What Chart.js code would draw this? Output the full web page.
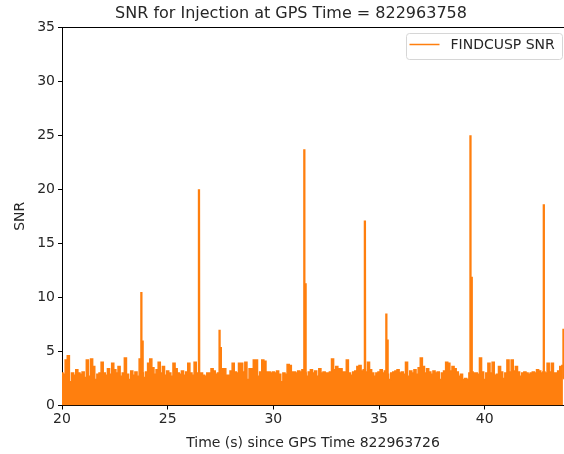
<!DOCTYPE html>
<html>
<head>
<meta charset="utf-8">
<script src="https://cdn.jsdelivr.net/npm/chart.js@4.4.1/dist/chart.umd.min.js"></script>
<style>
  body { margin: 0; background: #fff; }
  canvas { display: block; }
</style>
</head>
<body>
<canvas id="snrChart" width="564" height="454"></canvas>
<script>
// données
const titleText = 'SNR for Injection at GPS Time = 822963758';
const xLabel = 'Time (s) since GPS Time 822963726';
const yLabel = 'SNR';
const seriesName = 'FINDCUSP SNR';

// enveloppe du bruit, un point toutes les 0.1 s à partir de 20.0 s
const noiseStart = 20.0;
const noiseStep = 0.1;
const noiseSnr = [
  3.0, 2.9, 4.2, 4.6, 2.2, 3.0, 2.8, 3.3, 3.0, 2.9,
  3.1, 2.6, 4.2, 2.7, 4.3, 3.6, 2.4, 2.9, 3.0, 4.0,
  3.0, 2.8, 3.4, 2.9, 3.9, 3.3, 3.0, 3.6, 2.7, 3.0,
  4.4, 2.9, 2.4, 3.2, 2.8, 3.1, 2.7, 4.3, 3.0, 2.6,
  3.1, 3.9, 4.3, 3.5, 2.9, 3.3, 4.0, 3.0, 3.6, 2.8,
  3.2, 3.0, 2.7, 3.9, 3.4, 3.0, 2.9, 3.2, 2.8, 3.1,
  3.9, 3.0, 2.8, 4.0, 3.0, 2.9, 3.0, 2.8, 2.7, 3.0,
  3.0, 3.4, 3.2, 2.9, 3.0, 3.0, 3.4, 3.4, 2.8, 2.8,
  3.2, 3.9, 3.1, 3.0, 3.9, 3.9, 3.1, 4.0, 2.4, 3.4,
  3.4, 4.2, 4.2, 2.7, 3.1, 4.2, 4.1, 3.1, 3.1, 3.0,
  3.1, 3.0, 3.2, 2.9, 2.2, 3.0, 2.9, 3.8, 3.7, 3.1,
  3.1, 3.0, 3.2, 3.1, 3.3, 3.0, 2.7, 3.1, 3.3, 3.0,
  3.2, 2.7, 3.4, 3.0, 3.1, 3.0, 3.0, 3.1, 4.3, 3.3,
  3.6, 3.4, 3.4, 3.1, 3.1, 4.2, 3.0, 2.8, 3.1, 3.2,
  3.6, 3.7, 3.2, 3.3, 3.1, 4.0, 3.3, 3.0, 2.7, 3.0,
  3.1, 3.3, 3.0, 3.2, 2.9, 2.4, 3.0, 3.1, 3.2, 3.3,
  3.0, 3.1, 2.9, 4.0, 2.7, 3.2, 3.0, 3.3, 2.9, 3.5,
  4.4, 3.6, 3.0, 3.4, 3.1, 2.9, 3.2, 3.0, 3.1, 2.4,
  3.0, 3.2, 4.0, 3.9, 3.2, 3.6, 3.4, 3.1, 2.7, 2.9,
  2.4, 2.5, 2.4, 3.0, 3.1, 3.0, 3.0, 2.9, 4.4, 3.1,
  2.4, 3.0, 3.9, 3.0, 4.0, 2.8, 2.9, 3.6, 3.1, 2.5,
  3.0, 4.2, 3.1, 4.2, 3.2, 3.6, 3.1, 2.7, 3.0, 3.1,
  3.0, 2.9, 3.0, 3.1, 3.0, 3.3, 3.2, 3.0, 3.1, 3.0,
  3.9, 3.1, 3.9, 3.0, 3.0, 3.2, 3.6, 3.7
];

// pics (injections)
const spikeTimes  = [23.75, 26.48, 27.45, 31.46, 34.33, 35.34, 39.32, 42.79, 43.72];
const spikePeaks  = [10.5, 20.0, 7.0, 23.7, 17.1, 8.5, 25.0, 18.6, 7.1];
const spikeSecond = [6.0, 0, 5.4, 11.3, 0, 6.1, 11.9, 0, 0];

// axes
const xMin = 20, xMax = 43.75, xStep = 5;
const yMin = 0, yMax = 35, yStep = 5;

const orange = '#ff7f0e';
const textColor = '#262626';

// construire les points
const noiseData = noiseSnr.map((v, i) => ({ x: noiseStart + i * noiseStep, y: v }));
const spikeData = [];
spikeTimes.forEach((t, i) => {
  spikeData.push({ x: t - 0.01, y: 2.5 }, { x: t, y: spikePeaks[i] }, { x: t + 0.01, y: 2.5 });
  if (spikeSecond[i]) {
    spikeData.push({ x: t + 0.05, y: 2.5 }, { x: t + 0.06, y: spikeSecond[i] }, { x: t + 0.07, y: 2.5 });
  }
  spikeData.push({ x: t + 0.08, y: null });
});

// titre, légende et cadre du haut, à la manière de matplotlib
const framePlugin = {
  id: 'frame',
  afterDraw(chart) {
    const { ctx, chartArea } = chart;
    ctx.save();
    // titre
    ctx.fillStyle = textColor;
    ctx.font = '16px "DejaVu Sans"';
    ctx.textAlign = 'center';
    ctx.textBaseline = 'alphabetic';
    ctx.fillText(titleText, 291, 18);

    // bord du haut
    ctx.strokeStyle = '#000';
    ctx.lineWidth = 1;
    ctx.beginPath();
    ctx.moveTo(chartArea.left, chartArea.top + 0.5);
    ctx.lineTo(chartArea.right, chartArea.top + 0.5);
    ctx.stroke();

    // boîte de légende
    const bx = 406.5, by = 33.5, bw = 156, bh = 26, r = 3;
    ctx.fillStyle = 'rgba(255,255,255,0.8)';
    ctx.strokeStyle = '#d6d6d6';
    ctx.beginPath();
    ctx.roundRect(bx, by, bw, bh, r);
    ctx.fill();
    ctx.stroke();
    ctx.strokeStyle = orange;
    ctx.lineWidth = 1.5;
    ctx.beginPath();
    ctx.moveTo(bx + 3, by + 11);
    ctx.lineTo(bx + 33, by + 11);
    ctx.stroke();
    ctx.fillStyle = textColor;
    ctx.font = '14px "DejaVu Sans"';
    ctx.textAlign = 'left';
    ctx.textBaseline = 'middle';
    ctx.fillText(seriesName, bx + 44, by + 12);
    ctx.restore();
  }
};

const ctx = document.getElementById('snrChart').getContext('2d');
const snrChart = new Chart(ctx, {
  type: 'line',
  data: {
    datasets: [
      {
        label: seriesName,
        data: noiseData,
        borderColor: orange,
        backgroundColor: orange,
        borderWidth: 1.5,
        fill: 'origin',
        stepped: 'middle',
        pointRadius: 0
      },
      {
        label: seriesName,
        data: spikeData,
        borderColor: orange,
        borderWidth: 2.3,
        borderJoinStyle: 'bevel',
        fill: false,
        pointRadius: 0,
        spanGaps: false
      }
    ]
  },
  options: {
    responsive: false,
    animation: false,
    layout: { padding: { top: 27, left: 0, right: 0, bottom: 0 } },
    plugins: {
      legend: { display: false },
      tooltip: { enabled: false },
      title: { display: false }
    },
    scales: {
      x: {
        type: 'linear',
        min: xMin,
        max: xMax,
        afterFit: (scale) => { scale.height = 48.5; },
        afterBuildTicks: (scale) => {
          const t = [];
          for (let v = xMin; v <= xMax; v += xStep) t.push({ value: v });
          scale.ticks = t;
        },
        ticks: {
          color: textColor,
          font: { family: 'DejaVu Sans', size: 14 },
          padding: 1,
          maxRotation: 0
        },
        grid: { display: true, drawOnChartArea: false, tickLength: 4, color: '#000' },
        border: { display: true, color: '#000', width: 1 },
        title: {
          display: true,
          text: xLabel,
          color: textColor,
          font: { family: 'DejaVu Sans', size: 14 },
          padding: { top: 0, bottom: 2 }
        }
      },
      y: {
        min: yMin,
        max: yMax,
        afterFit: (scale) => { scale.width = 62; },
        ticks: {
          stepSize: yStep,
          color: textColor,
          font: { family: 'DejaVu Sans', size: 14 },
          padding: 3
        },
        grid: { display: true, drawOnChartArea: false, tickLength: 4, color: '#000' },
        border: { display: true, color: '#000', width: 1 },
        title: {
          display: true,
          text: yLabel,
          color: textColor,
          font: { family: 'DejaVu Sans', size: 14 },
          padding: { top: 12, bottom: 0 }
        }
      }
    }
  },
  plugins: [framePlugin]
});
</script>
</body>
</html>
